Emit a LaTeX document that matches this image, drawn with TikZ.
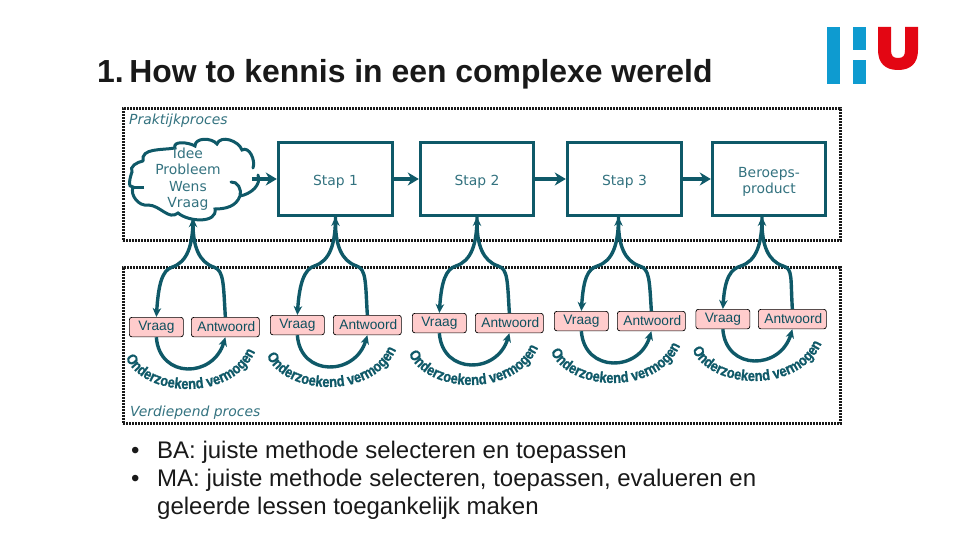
\documentclass[tikz,border=0pt]{standalone}
\usepackage{fontspec}
\setmainfont{Liberation Sans}
\newfontfamily\verd{DejaVu Sans}
\newfontfamily\boog[FakeBold=1.2,FakeStretch=0.86]{Liberation Sans Bold}
\usetikzlibrary{arrows.meta,calc,decorations.text}
\definecolor{hut}{HTML}{0F5968}
\definecolor{roze}{HTML}{FFCCCC}
\definecolor{hublauw}{HTML}{0E9BD0}
\definecolor{hurood}{HTML}{E30613}
\newcommand{\zak}[1]{\raisebox{-2.5pt}[\height][\depth]{#1}}
\tikzset{
  kader/.style={draw=black!90,line width=3pt,dash pattern=on 2pt off 1pt,inner sep=0pt},
  stapbox/.style={draw=hut,line width=3.4pt,minimum height=72.5pt,inner sep=0pt,align=center,
     font=\verd\fontsize{13.9}{16}\selectfont,text=hut!85},
  vakje/.style={draw=black,fill=roze,line width=.7pt,rounded corners=2.5pt,minimum height=19.5pt,inner sep=0pt,
     font=\fontsize{13.7}{16}\selectfont,text=hut!90!black},
  kromme/.style={draw=hut,line width=3.4pt,-{Stealth[length=9pt,width=8.5pt]}},
  pijl/.style={draw=hut,line width=3.6pt,-{Stealth[length=11pt,width=13pt,inset=3.5pt]}},
  boogtekst/.style={postaction={decorate},decoration={text along path,text align=center,
     text={|\boog\fontsize{15}{16}\selectfont\color{hut}|Onderzoekend vermogen}}},
  etiket/.style={anchor=base west,inner sep=0pt,text=hut!85,font=\verd\itshape\fontsize{13.9}{15}\selectfont},
}
% #1 id, #2 x Vraag, #3 y Vraag (top), #4 target node, #5 shift of the tip, #6 x Antwoord
\newcommand{\eenheid}[6]{
  \node[vakje,minimum width=54pt,anchor=north west] (V#1) at (#2,#3) {Vraag};
  \node[vakje,minimum width=68pt,anchor=north west] (A#1) at (#6,#3) {\hspace{2pt}Antwoord};
  \coordinate (T#1) at ($(#4.south)+(#5,0)$);
  \draw[kromme] (T#1) .. controls ($(T#1)+(0,28)$) and ($(T#1)+(-6,44)$) .. ($(T#1)+(-21,49)$)
     .. controls ($(T#1)+(-31,52)$) and ($(V#1.north)+(2,-32)$) .. (V#1.north);
  \draw[kromme] (A#1.north) .. controls ($(A#1.north)+(-2,-32)$) and ($(T#1)+(31,52)$) .. ($(T#1)+(21,49)$)
     .. controls ($(T#1)+(6,44)$) and ($(T#1)+(0,28)$) .. (T#1);
  \draw[kromme] (V#1.south) .. controls ($(V#1.south)+(3,42)$) and ($(A#1.south)+(-12,41)$) .. (A#1.south);
  \path[boogtekst] ($(V#1.north west)+(-5,36)$) .. controls ($(V#1.north west)+(8,82)$) and ($(V#1.north west)+(108,88)$) .. ($(V#1.north west)+(128,30)$);
}
\begin{document}
\begin{tikzpicture}[x=1pt,y=-1pt]
\useasboundingbox (0,0) rectangle (960,540);
% logo
\fill[hublauw] (827,27) rectangle (839.5,84);
\fill[hublauw] (852.5,27) rectangle (865.5,50.5);
\fill[hublauw] (852.5,60.5) rectangle (865.5,84);
\fill[hurood] (878,27) -- (891,27) -- (891,50) .. controls (891,56) and (893,58) .. (898,58)
  .. controls (903,58) and (905,56) .. (905,50) -- (905,27) -- (918,27) -- (918,50)
  .. controls (918,63) and (911,70) .. (898,70) .. controls (885,70) and (878,63) .. (878,50) -- cycle;
% title
\node[anchor=base west,inner sep=0pt,font=\bfseries\fontsize{31.9}{36}\selectfont,text=black!90] (titel) at (97,83) {1.\kern5.5pt How to kennis in een complexe wereld};
% frames
\node[kader,minimum width=717pt,minimum height=132pt] (praktijk) at (481.5,174.5) {};
\node[kader,minimum width=717pt,minimum height=156pt] (verdiep) at (481.5,345.5) {};
\node[etiket] (lab1) at (129,125) {Praktijkproces};
\node[etiket] (lab2) at (130,416) {Verdiepend proces};
% cloud
\draw[hut,line width=3pt,line cap=round] (143,161) to[out=100,in=-170] (175,148) to[out=110,in=150] (195,146)
  to[out=90,in=130] (217,144) to[out=70,in=110] (242,150) to[out=30,in=70] (253,168)
  (258,175) to[out=-70,in=10] (240,196) (231,182) to[out=10,in=70] (240,196) to[out=-110,in=0] (215,209)
  to[out=-80,in=-40] (178,213) to[out=-140,in=0] (148,205) to[out=-170,in=-110] (133,187) to[out=-170,in=-110] (132,172)
  to[out=120,in=-170] (143,161);
\draw[hut,line width=3pt] (144,187) -- (134,187);
% process boxes
\node[inner sep=0pt,minimum width=128pt,minimum height=78pt,align=center,text=hut!85,font=\verd\fontsize{13.9}{16.5}\selectfont] (wolk) at (188,179) {Idee\\Probleem\\Wens\\Vraag};
\node[stapbox,minimum width=114pt] (s1) at (335.5,179) {\zak{Stap 1}};
\node[stapbox,minimum width=113pt] (s2) at (477,179) {\zak{Stap 2}};
\node[stapbox,minimum width=114pt] (s3) at (624.5,179) {\zak{Stap 3}};
\node[stapbox,minimum width=113pt] (s4) at (769,179) {\zak{Beroeps-}\\\zak{product}};
\draw[pijl] (wolk.east) -- (s1.west);
\draw[pijl] (s1.east) -- (s2.west);
\draw[pijl] (s2.east) -- (s3.west);
\draw[pijl] (s3.east) -- (s4.west);
% lower units
\eenheid{1}{129}{317}{wolk}{5}{191}
\eenheid{2}{270}{315}{s1}{0}{333}
\eenheid{3}{412}{313}{s2}{0}{475}
\eenheid{4}{554}{311}{s3}{-6}{617}
\eenheid{5}{695.5}{309}{s4}{-7}{758}
% bullets
\node[anchor=north west,inner sep=0pt,align=left,text=black!90,font=\fontsize{24}{28}\selectfont] (tekst) at (131,441)
 {\makebox[26pt][l]{•}BA: juiste methode selecteren en toepassen\\
  \makebox[26pt][l]{•}MA: juiste methode selecteren, toepassen, evalueren en\\
  \hspace*{26pt}geleerde lessen toegankelijk maken};
\end{tikzpicture}
\end{document}
